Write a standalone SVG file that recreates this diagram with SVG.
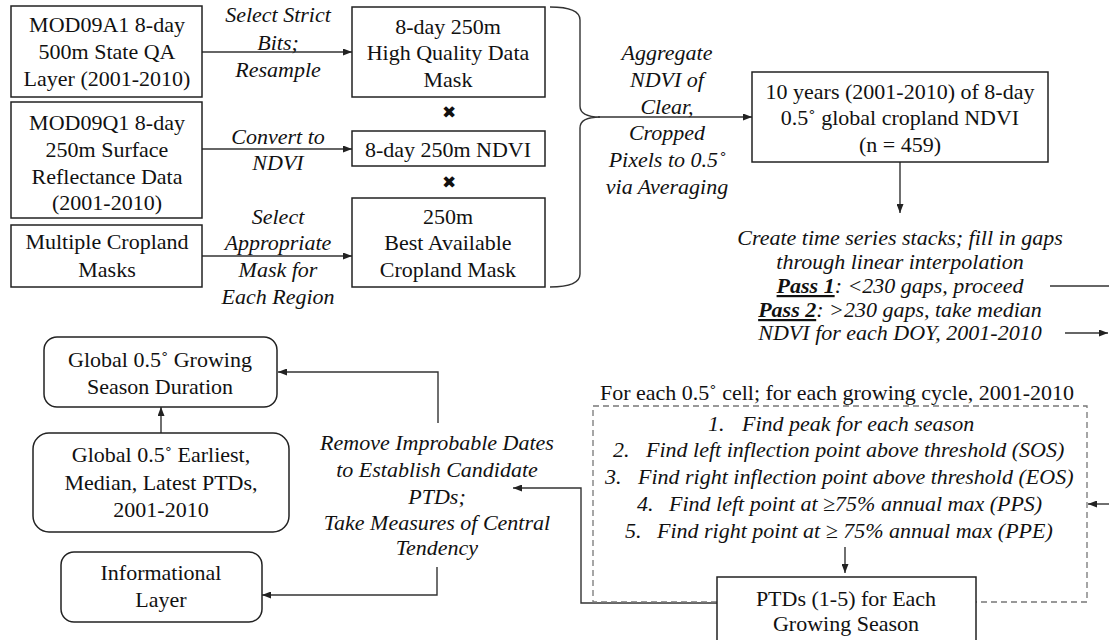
<svg xmlns="http://www.w3.org/2000/svg" width="1109" height="640" viewBox="0 0 1109 640">
<defs>
<marker id="ah" markerWidth="9" markerHeight="7" refX="9" refY="3.5" orient="auto" markerUnits="userSpaceOnUse">
<path d="M0,0 L9,3.5 L0,7 Z" fill="#222"/>
</marker>
<style>
text{font-family:"Liberation Serif","Times New Roman",serif;font-size:22px;fill:#111;text-anchor:middle}
.it{font-style:italic}
.st{text-anchor:start}
.box{fill:#fff;stroke:#222;stroke-width:1.5}
.conn{fill:none;stroke:#333;stroke-width:1.4}
.arr{fill:none;stroke:#333;stroke-width:1.4;marker-end:url(#ah)}
.dash{fill:none;stroke:#777;stroke-width:1.3;stroke-dasharray:6,4}
.x{font-family:"DejaVu Sans",sans-serif;font-size:17px}
</style>
</defs>
<rect width="1109" height="640" fill="#fff"/>

<g id="connectors">
<line class="arr" x1="202" y1="52" x2="352" y2="52"/>
<line class="arr" x1="202" y1="149" x2="352" y2="149"/>
<line class="arr" x1="202" y1="256" x2="352" y2="256"/>
<path class="conn" d="M550,7 Q580,7 580,20 L580,106 Q580,117 600,117 Q580,117 580,128 L580,274 Q580,287 550,287"/>
<line class="arr" x1="598" y1="117" x2="752" y2="117"/>
<line class="arr" x1="900" y1="162" x2="900" y2="213"/>
<line class="conn" x1="1050" y1="286" x2="1109" y2="286"/>
<line class="arr" x1="1065" y1="333" x2="1108" y2="333"/>
<line class="arr" x1="1109" y1="504" x2="1088" y2="504"/>
<line class="arr" x1="845" y1="547" x2="845" y2="573"/>
<polyline class="arr" points="717,603 581,603 581,488 513,488"/>
<polyline class="arr" points="438,423 438,372 278,372"/>
<polyline class="arr" points="437,567 437,595 262,595"/>
<line class="arr" x1="161" y1="433" x2="161" y2="407"/>
</g>

<g id="labels">
<text class="it" x="278" y="22">Select Strict</text>
<text class="it" x="278" y="50">Bits;</text>
<text class="it" x="278" y="77">Resample</text>
<text class="it" x="278" y="144">Convert to</text>
<text class="it" x="278" y="170">NDVI</text>
<text class="it" x="278" y="224">Select</text>
<text class="it" x="278" y="250">Appropriate</text>
<text class="it" x="278" y="277">Mask for</text>
<text class="it" x="278" y="304">Each Region</text>
<text class="x" x="449" y="118">✖</text>
<text class="x" x="449" y="188">✖</text>
<text class="it" x="667" y="60">Aggregate</text>
<text class="it" x="667" y="87">NDVI of</text>
<text class="it" x="667" y="114">Clear,</text>
<text class="it" x="667" y="140">Cropped</text>
<text class="it" x="667" y="167">Pixels to 0.5˚</text>
<text class="it" x="667" y="194">via Averaging</text>
<text class="it" x="900" y="245">Create time series stacks; fill in gaps</text>
<text class="it" x="900" y="269">through linear interpolation</text>
<text class="it" x="900" y="293"><tspan font-weight="bold" text-decoration="underline">Pass 1</tspan>: &lt;230 gaps, proceed</text>
<text class="it" x="900" y="317"><tspan font-weight="bold" text-decoration="underline">Pass 2</tspan>: &gt;230 gaps, take median</text>
<text class="it" x="900" y="340">NDVI for each DOY, 2001-2010</text>
<text class="it" x="437" y="450">Remove Improbable Dates</text>
<text class="it" x="437" y="477">to Establish Candidate</text>
<text class="it" x="437" y="504">PTDs;</text>
<text class="it" x="437" y="530">Take Measures of Central</text>
<text class="it" x="437" y="555">Tendency</text>
</g>

<g id="n-mod09a1">
<rect class="box" x="11" y="6" width="191" height="91"/>
<text x="107" y="32">MOD09A1 8-day</text>
<text x="107" y="59">500m State QA</text>
<text x="107" y="86">Layer (2001-2010)</text>
</g>
<g id="n-mod09q1">
<rect class="box" x="11" y="102" width="191" height="116"/>
<text x="107" y="130">MOD09Q1 8-day</text>
<text x="107" y="157">250m Surface</text>
<text x="107" y="184">Reflectance Data</text>
<text x="107" y="210">(2001-2010)</text>
</g>
<g id="n-masks">
<rect class="box" x="11" y="225" width="191" height="62"/>
<text x="107" y="249">Multiple Cropland</text>
<text x="107" y="277">Masks</text>
</g>
<g id="n-hq">
<rect class="box" x="352" y="7" width="193" height="90"/>
<text x="448" y="34">8-day 250m</text>
<text x="448" y="60">High Quality Data</text>
<text x="448" y="87">Mask</text>
</g>
<g id="n-ndvi">
<rect class="box" x="352" y="131" width="193" height="35"/>
<text x="448" y="157">8-day 250m NDVI</text>
</g>
<g id="n-best">
<rect class="box" x="352" y="198" width="193" height="89"/>
<text x="448" y="224">250m</text>
<text x="448" y="250">Best Available</text>
<text x="448" y="277">Cropland Mask</text>
</g>
<g id="n-10yr">
<rect class="box" x="752" y="72" width="296" height="90"/>
<text x="900" y="99">10 years (2001-2010) of 8-day</text>
<text x="900" y="125">0.5˚ global cropland NDVI</text>
<text x="900" y="152">(n = 459)</text>
</g>
<g id="n-cell">
<text x="837" y="400">For each 0.5˚ cell; for each growing cycle, 2001-2010</text>
<rect class="dash" x="593" y="406" width="494" height="196"/>
<text class="it st" x="708" y="431">1.<tspan x="742">Find peak for each season</tspan></text>
<text class="it st" x="613" y="457">2.<tspan x="646">Find left inflection point above threshold (SOS)</tspan></text>
<text class="it st" x="605" y="484">3.<tspan x="638">Find right inflection point above threshold (EOS)</tspan></text>
<text class="it st" x="637" y="511">4.<tspan x="669">Find left point at ≥75% annual max (PPS)</tspan></text>
<text class="it st" x="625" y="538">5.<tspan x="657">Find right point at ≥ 75% annual max (PPE)</tspan></text>
</g>
<g id="n-ptds">
<rect class="box" x="717" y="577" width="259" height="80"/>
<text x="846" y="606" font-size="21">PTDs (1-5) for Each</text>
<text x="846" y="631" font-size="21">Growing Season</text>
</g>
<g id="n-gsd">
<rect class="box" x="44" y="337" width="233" height="70" rx="13"/>
<text x="160" y="367">Global 0.5˚ Growing</text>
<text x="160" y="394">Season Duration</text>
</g>
<g id="n-earliest">
<rect class="box" x="33" y="433" width="256" height="99" rx="16"/>
<text x="161" y="462">Global 0.5˚ Earliest,</text>
<text x="161" y="490">Median, Latest PTDs,</text>
<text x="161" y="517">2001-2010</text>
</g>
<g id="n-info">
<rect class="box" x="61" y="552" width="201" height="70" rx="13"/>
<text x="161" y="580">Informational</text>
<text x="161" y="607">Layer</text>
</g>
</svg>
